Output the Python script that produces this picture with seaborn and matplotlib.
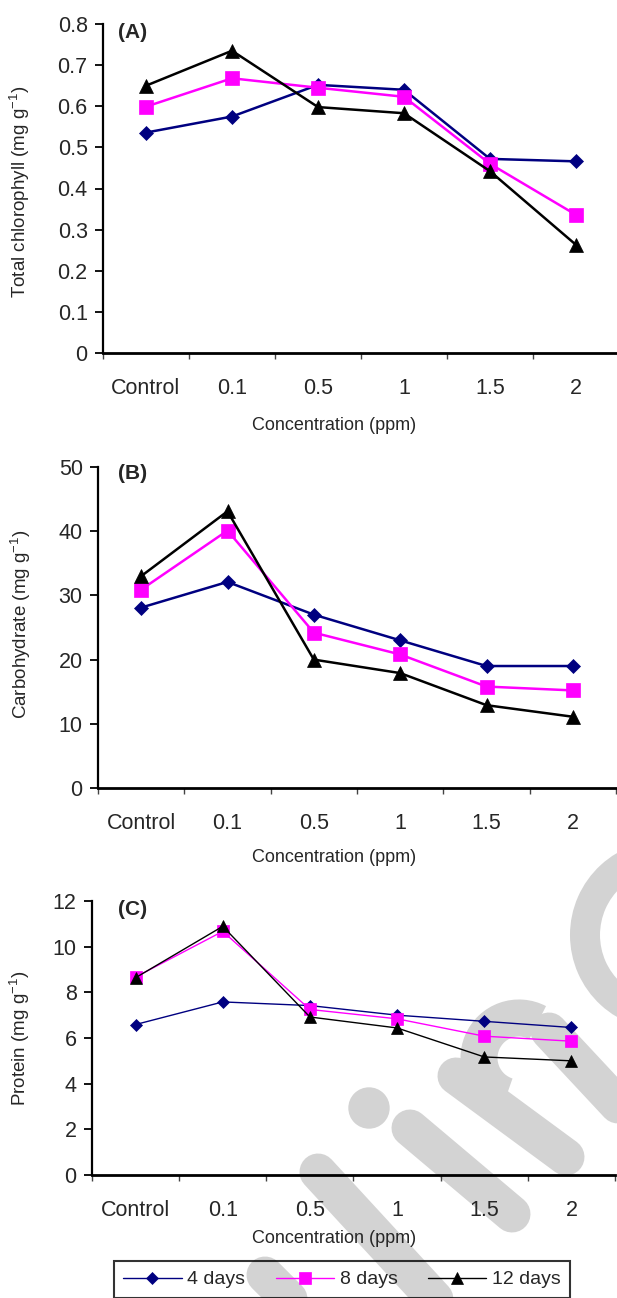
import numpy as np
import pandas as pd
import matplotlib
matplotlib.use('Agg')
import matplotlib.pyplot as plt
import seaborn as sns
from matplotlib.lines import Line2D
from matplotlib.patches import Ellipse, Arc
from matplotlib.ticker import FixedLocator, FixedFormatter

sns.set_style("white")
plt.rcParams['font.family'] = ['Liberation Sans', 'DejaVu Sans']
plt.rcParams['mathtext.fontset'] = 'custom'
plt.rcParams['mathtext.rm'] = 'Liberation Sans'

# 数据
categories = ['Control', '0.1', '0.5', '1', '1.5', '2']
series_names = ['4 days', '8 days', '12 days']

chl_4 = [0.536, 0.575, 0.652, 0.640, 0.472, 0.466]
chl_8 = [0.599, 0.668, 0.645, 0.623, 0.460, 0.336]
chl_12 = [0.650, 0.735, 0.598, 0.583, 0.442, 0.263]

carb_4 = [28.1, 32.1, 27.0, 23.0, 19.0, 19.0]
carb_8 = [30.9, 40.1, 24.2, 20.8, 15.8, 15.2]
carb_12 = [33.0, 43.1, 20.0, 17.9, 12.9, 11.1]

prot_4 = [6.59, 7.58, 7.42, 7.00, 6.73, 6.46]
prot_8 = [8.67, 10.67, 7.25, 6.84, 6.08, 5.86]
prot_12 = [8.64, 10.89, 6.92, 6.44, 5.17, 5.00]

chl_ticks = [0, 0.1, 0.2, 0.3, 0.4, 0.5, 0.6, 0.7, 0.8]
chl_ticklabels = ['0', '0.1', '0.2', '0.3', '0.4', '0.5', '0.6', '0.7', '0.8']
carb_ticks = [0, 10, 20, 30, 40, 50]
carb_ticklabels = ['0', '10', '20', '30', '40', '50']
prot_ticks = [0, 2, 4, 6, 8, 10, 12]
prot_ticklabels = ['0', '2', '4', '6', '8', '10', '12']

colors = ['#000080', '#ff00ff', '#000000']
markers = ['D', 's', '^']

W, H = 617, 1298
fig = plt.figure(figsize=(W / 100, H / 100), dpi=100)


def fx(x):
    return x / W


def fy(y):
    return 1 - y / H


# 水印 (灰色背景图形)
wm = '#d3d3d3'
wm_lw = 37 * 0.72
bands = [((318, 1172), (445, 1310)),
         ((410, 1128), (512, 1214)),
         ((456, 1076), (566, 1157)),
         ((549, 1031), (660, 1150)),
         ((265, 1275), (300, 1310))]
for (x1, y1), (x2, y2) in bands:
    fig.add_artist(Line2D([fx(x1), fx(x2)], [fy(y1), fy(y2)], transform=fig.transFigure,
                          color=wm, lw=wm_lw, solid_capstyle='round', zorder=-2))
fig.add_artist(Ellipse((fx(369), fy(1108)), 40 / W, 40 / H, transform=fig.transFigure,
                       color=wm, zorder=-2))
fig.add_artist(Arc((fx(519), fy(1058)), 80 / W, 80 / H, theta1=42, theta2=235,
                   transform=fig.transFigure, color=wm, lw=wm_lw, zorder=-2))
fig.add_artist(Arc((fx(665), fy(935)), 160 / W, 160 / H, theta1=80, theta2=280,
                   transform=fig.transFigure, color=wm, lw=30 * 0.72, zorder=-2))

panels = [
    dict(rect=(103, 24, 619, 353), data=[chl_4, chl_8, chl_12], ticks=chl_ticks,
         ticklabels=chl_ticklabels, ylabel=r'Total chlorophyll (mg g$^{\mathregular{-1}}$)',
         tag='(A)', tagpos=(0.029, 0.973), xlab=(0.448, -0.219), ylab=(-0.161, 0.49),
         lw=1.8, ms=[7, 9.5, 10.5]),
    dict(rect=(98, 467, 616, 788), data=[carb_4, carb_8, carb_12], ticks=carb_ticks,
         ticklabels=carb_ticklabels, ylabel=r'Carbohydrate (mg g$^{\mathregular{-1}}$)',
         tag='(B)', tagpos=(0.039, 0.98), xlab=(0.456, -0.215), ylab=(-0.15, 0.51),
         lw=1.8, ms=[7, 9.5, 10.5]),
    dict(rect=(92, 901, 615, 1175), data=[prot_4, prot_8, prot_12], ticks=prot_ticks,
         ticklabels=prot_ticklabels, ylabel=r'Protein (mg g$^{\mathregular{-1}}$)',
         tag='(C)', tagpos=(0.05, 0.97), xlab=(0.463, -0.23), ylab=(-0.138, 0.50),
         lw=1.0, ms=[6, 8, 8.5]),
]

xpos = np.arange(len(categories))
axes = []
for p in panels:
    l, t, r, b = p['rect']
    ax = fig.add_axes([fx(l), fy(b), (r - l) / W, (b - t) / H])
    ax.set_facecolor('none')
    for vals, name, c, m, ms in zip(p['data'], series_names, colors, markers, p['ms']):
        df = pd.DataFrame({'x': xpos, 'y': vals})
        sns.lineplot(data=df, x='x', y='y', ax=ax, color=c, marker=m, markersize=ms,
                     markeredgecolor=c, markeredgewidth=0.5, linewidth=p['lw'], label=name)
    if ax.get_legend() is not None:
        ax.get_legend().remove()

    ax.set_xlim(-0.5, len(categories) - 0.5)
    ax.set_ylim(p['ticks'][0], p['ticks'][-1])
    ax.yaxis.set_major_locator(FixedLocator(p['ticks']))
    ax.yaxis.set_major_formatter(FixedFormatter(p['ticklabels']))
    ax.xaxis.set_major_locator(FixedLocator(xpos))
    ax.xaxis.set_major_formatter(FixedFormatter(categories))
    ax.xaxis.set_minor_locator(FixedLocator(np.arange(-0.5, len(categories), 1.0)))

    for s in ['top', 'right']:
        ax.spines[s].set_visible(False)
    ax.spines['left'].set_linewidth(1.6)
    ax.spines['bottom'].set_linewidth(2.0)
    ax.spines['left'].set_color('black')
    ax.spines['bottom'].set_color('black')

    ax.tick_params(axis='y', direction='out', length=6, width=1.3, color='black',
                   labelsize=15.5, pad=5, left=True)
    ax.tick_params(axis='x', which='major', length=0, labelsize=15.5, pad=18, bottom=True)
    ax.tick_params(axis='x', which='minor', direction='out', length=4, width=1.0,
                   color='#444444', bottom=True)

    ax.set_xlabel('Concentration (ppm)', fontsize=13)
    ax.xaxis.set_label_coords(*p['xlab'])
    ax.xaxis.label.set_va('center')
    ax.set_ylabel(p['ylabel'], fontsize=13.5)
    ax.yaxis.set_label_coords(*p['ylab'])
    ax.yaxis.label.set_va('center')

    ax.text(p['tagpos'][0], p['tagpos'][1], p['tag'], transform=ax.transAxes,
            fontsize=15, fontweight='bold', ha='left', va='center')
    axes.append(ax)

handles, labels = axes[2].get_legend_handles_labels()
leg = fig.legend(handles, labels, loc='upper center', bbox_to_anchor=(fx(342), fy(1261)),
                 ncol=3, frameon=True, fancybox=False, edgecolor='black', facecolor='none',
                 prop={'size': 14},
                 handlelength=3.0, handletextpad=0.3, columnspacing=1.55, borderpad=0.5,
                 borderaxespad=0)
leg.get_frame().set_linewidth(1.5)

plt.savefig('out.png', dpi=100)
plt.close()
